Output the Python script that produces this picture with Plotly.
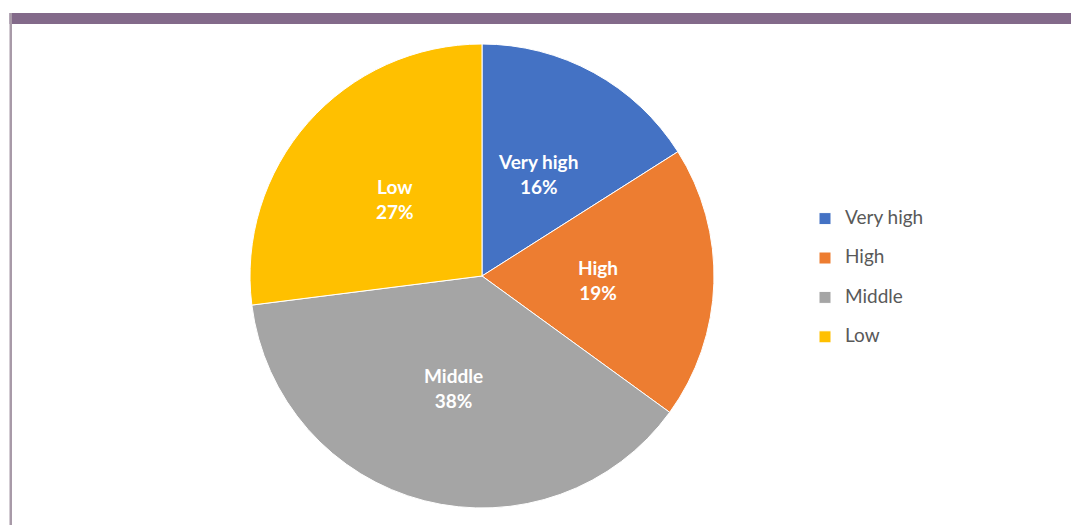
import math
import plotly.graph_objects as go

# Share of respondents by level
categories = ["Very high", "High", "Middle", "Low"]
shares = [16, 19, 38, 27]
colors = ["#4472C4", "#ED7D31", "#A5A5A5", "#FFC000"]

W, H = 1071, 525

# pie geometry in pixels
cx, cy, r = 482, 276, 232

legend_labels = [
    f'<span style="font-size:19px">{c}</span><br> ' for c in categories
]

fig = go.Figure(
    go.Pie(
        labels=legend_labels,
        values=shares,
        textinfo="none",
        sort=False,
        direction="clockwise",
        rotation=0,
        marker=dict(colors=colors, line=dict(color="#FFFFFF", width=1)),
        domain=dict(
            x=[(cx - r) / W, (cx + r) / W],
            y=[(H - cy - r) / H, (H - cy + r) / H],
        ),
        hoverinfo="skip",
    )
)

# data labels placed at half radius along each slice's mid-angle
total = sum(shares)
annotations = []
acc = 0.0
for c, v in zip(categories, shares):
    mid = (acc + v / 2) / total * 2 * math.pi
    acc += v
    px = cx + 0.5 * r * math.sin(mid)
    py = cy - 0.5 * r * math.cos(mid)
    annotations.append(dict(
        x=px / W, y=1 - py / H, xref="paper", yref="paper",
        text=f"{c}<br>{v}%", showarrow=False,
        xanchor="center", yanchor="middle", align="center",
        font=dict(family="Lato", size=19, color="#FFFFFF", weight="bold"),
    ))

shapes = [
    # purple header band
    dict(type="rect", xref="paper", yref="paper",
         x0=9.5 / W, x1=1.0, y0=1 - 24 / H, y1=1 - 13 / H,
         fillcolor="#836A8A", line=dict(width=0), layer="above"),
    # left frame line
    dict(type="rect", xref="paper", yref="paper",
         x0=9.5 / W, x1=12 / W, y0=0, y1=1 - 13 / H,
         fillcolor="#A89AA8", line=dict(width=0), layer="above"),
]

fig.update_layout(
    width=W,
    height=H,
    margin=dict(l=0, r=0, t=0, b=0),
    paper_bgcolor="#FFFFFF",
    plot_bgcolor="#FFFFFF",
    shapes=shapes,
    annotations=annotations,
    showlegend=True,
    legend=dict(
        x=805 / W, y=1 - 203 / H, xanchor="left", yanchor="top",
        font=dict(family="Lato", size=14, color="#595959"),
        valign="top",
        bgcolor="rgba(0,0,0,0)",
    ),
)

fig.write_html("out.html")
